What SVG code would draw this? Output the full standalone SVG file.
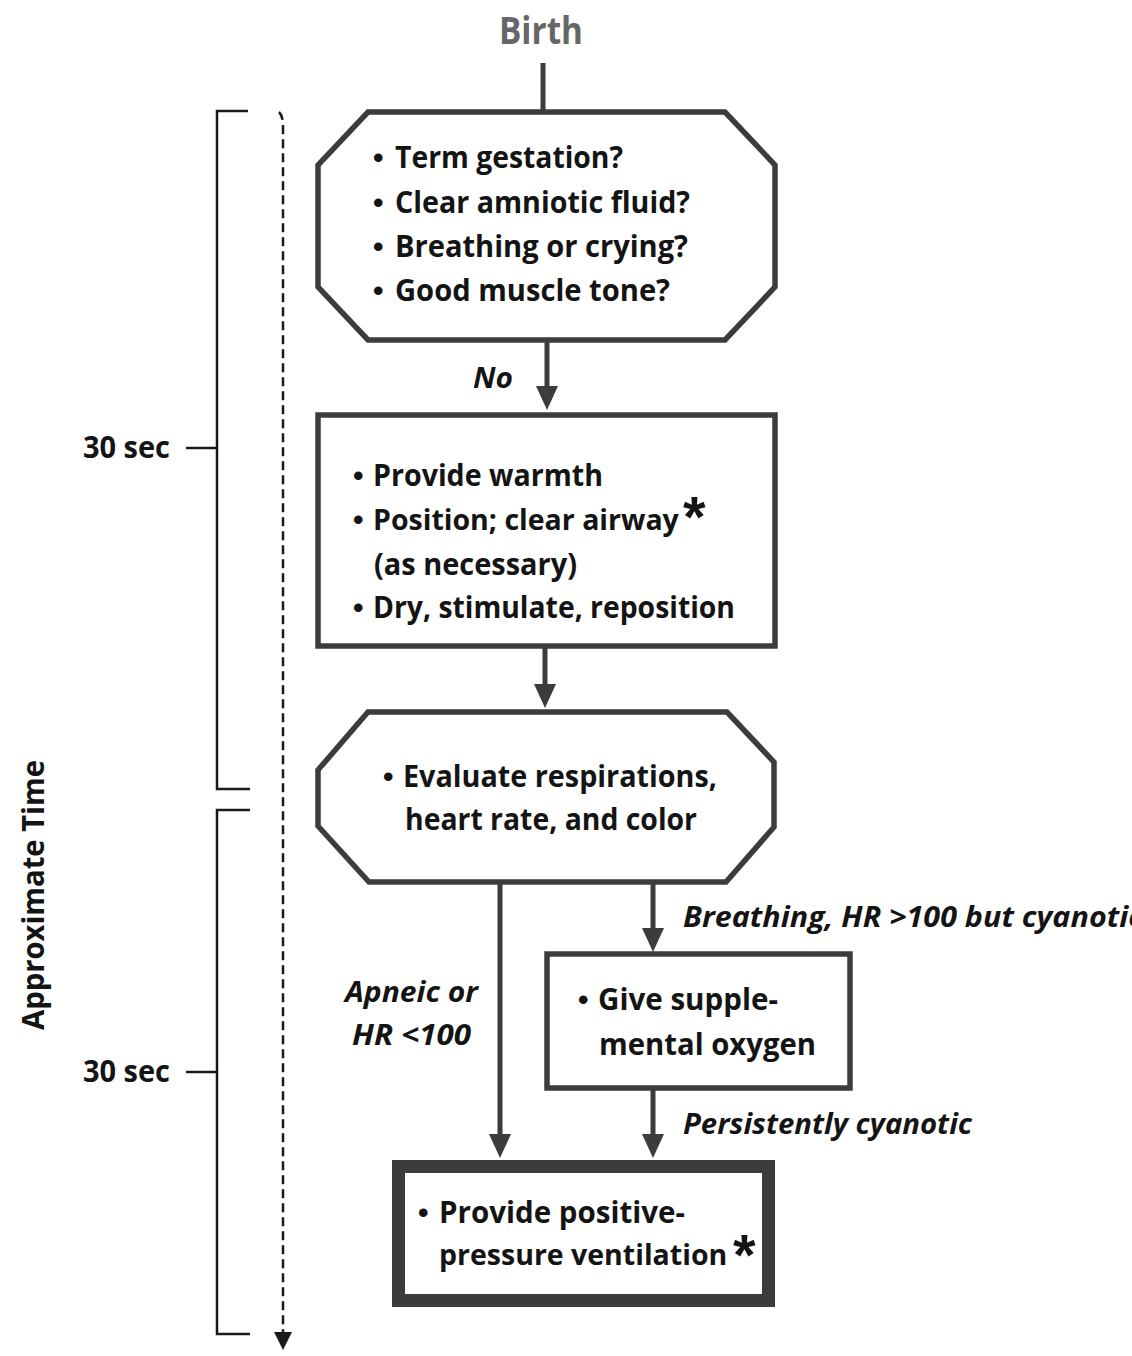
<svg xmlns="http://www.w3.org/2000/svg" width="1132" height="1356" viewBox="0 0 1132 1356">
  <style>
    .shape { fill: #ffffff; stroke: #3c3c3c; stroke-width: 5.5; stroke-linejoin: miter; }
    .thick { fill: #ffffff; stroke: #3c3c3c; stroke-width: 13; }
    .body { font-family: "Open Sans", "Liberation Sans", sans-serif; font-weight: 700; font-size: 31px; fill: #141414; }
    .fit { font-size: 28.5px; }
    .lbl { font-family: "Open Sans", "Liberation Sans", sans-serif; font-weight: 700; font-style: italic; font-size: 29px; fill: #141414; }
    .star { font-family: "Liberation Sans", sans-serif; font-weight: 700; font-size: 58px; fill: #141414; }
    .bul { font-family: "Liberation Sans", sans-serif; font-weight: 700; font-size: 30px; fill: #141414; }
    .wire { fill: none; stroke: #3c3c3c; stroke-width: 5; }
    .scale { fill: none; stroke: #1a1a1a; stroke-width: 2.5; }
    .dash { fill: none; stroke: #1a1a1a; stroke-width: 2.5; stroke-dasharray: 9 5; }
  </style>
  <defs>
    <marker id="head" markerUnits="userSpaceOnUse" markerWidth="24" markerHeight="22" viewBox="0 0 24 22" refX="6" refY="11" orient="auto">
      <path d="M0,0 L24,11 L0,22 z" fill="#3c3c3c"/>
    </marker>
    <marker id="timeHead" markerUnits="userSpaceOnUse" markerWidth="18" markerHeight="18" viewBox="0 0 18 18" refX="4" refY="9" orient="auto">
      <path d="M0,0 L18,9 L0,18 z" fill="#1a1a1a"/>
    </marker>
  </defs>

  <rect width="1132" height="1356" fill="#ffffff"/>

  <!-- time axis on the left -->
  <g id="time-axis">
    <text class="body" transform="translate(44,895) rotate(-90)" text-anchor="middle" textLength="270" lengthAdjust="spacingAndGlyphs">Approximate Time</text>
    <path class="scale" d="M248,111 H217 V789 H250"/>
    <path class="scale" d="M186,448 H217"/>
    <text class="body" x="83" y="458" textLength="87" lengthAdjust="spacingAndGlyphs">30 sec</text>
    <path class="scale" d="M250,810 H217 V1334 H250"/>
    <path class="scale" d="M186,1072 H217"/>
    <text class="body" x="83" y="1082" textLength="87" lengthAdjust="spacingAndGlyphs">30 sec</text>
    <path class="dash" d="M279,112 Q283,116 283,126 V1336" marker-end="url(#timeHead)"/>
  </g>

  <g id="birth">
    <text x="541" y="44" text-anchor="middle" font-family="Open Sans, Liberation Sans, sans-serif" font-weight="700" font-size="38" fill="#666666" textLength="84" lengthAdjust="spacingAndGlyphs">Birth</text>
  </g>

  <!-- connectors -->
  <g id="connectors">
    <path class="wire" d="M543,63 V112"/>
    <path class="wire" d="M547,342 V392" marker-end="url(#head)"/>
    <path class="wire" d="M545,647 V690" marker-end="url(#head)"/>
    <path class="wire" d="M500,884 V1140" marker-end="url(#head)"/>
    <path class="wire" d="M653,884 V934" marker-end="url(#head)"/>
    <path class="wire" d="M653,1090 V1140" marker-end="url(#head)"/>
    <text class="lbl" x="473" y="388" textLength="40" lengthAdjust="spacingAndGlyphs">No</text>
    <text class="lbl" x="345" y="1002" textLength="133" lengthAdjust="spacingAndGlyphs">Apneic or</text>
    <text class="lbl" x="352" y="1045" textLength="119" lengthAdjust="spacingAndGlyphs">HR &lt;100</text>
    <text class="lbl" x="683" y="927" textLength="460" lengthAdjust="spacingAndGlyphs">Breathing, HR &gt;100 but cyanotic</text>
    <text class="lbl" x="683" y="1134" textLength="289" lengthAdjust="spacingAndGlyphs">Persistently cyanotic</text>
  </g>

  <g id="initial-assessment">
    <polygon class="shape" points="368,112 725,112 775,165 775,287 725,340 368,340 318,287 318,165"/>
    <text class="bul" x="373" y="168">•</text>
    <text class="body" x="395" y="168" textLength="228" lengthAdjust="spacingAndGlyphs">Term gestation?</text>
    <text class="bul" x="373" y="213">•</text>
    <text class="body" x="395" y="213" textLength="295" lengthAdjust="spacingAndGlyphs">Clear amniotic fluid?</text>
    <text class="bul" x="373" y="257">•</text>
    <text class="body" x="395" y="257" textLength="293" lengthAdjust="spacingAndGlyphs">Breathing or crying?</text>
    <text class="bul" x="373" y="301">•</text>
    <text class="body" x="395" y="301" textLength="275" lengthAdjust="spacingAndGlyphs">Good muscle tone?</text>
  </g>

  <g id="initial-steps">
    <rect class="shape" x="318" y="415" width="457" height="231"/>
    <text class="bul" x="353" y="486">•</text>
    <text class="body" x="373" y="486" textLength="230" lengthAdjust="spacingAndGlyphs">Provide warmth</text>
    <text class="bul" x="353" y="530">•</text>
    <text class="body fit" x="373" y="530">Position; clear airway</text>
    <text class="star" x="683" y="537">*</text>
    <text class="body" x="374" y="575" textLength="203" lengthAdjust="spacingAndGlyphs">(as necessary)</text>
    <text class="bul" x="353" y="618">•</text>
    <text class="body" x="373" y="618" textLength="362" lengthAdjust="spacingAndGlyphs">Dry, stimulate, reposition</text>
  </g>

  <g id="evaluate">
    <polygon class="shape" points="368,712 727,712 774,762 774,827 726,882 369,882 318,826 318,770"/>
    <text class="bul" x="383" y="787">•</text>
    <text class="body" x="403" y="787" textLength="314" lengthAdjust="spacingAndGlyphs">Evaluate respirations,</text>
    <text class="body" x="405" y="830" textLength="292" lengthAdjust="spacingAndGlyphs">heart rate, and color</text>
  </g>

  <g id="oxygen">
    <rect class="shape" x="547" y="954" width="303" height="134"/>
    <text class="bul" x="578" y="1010">•</text>
    <text class="body" x="598" y="1010" textLength="180" lengthAdjust="spacingAndGlyphs">Give supple-</text>
    <text class="body" x="599" y="1055" textLength="217" lengthAdjust="spacingAndGlyphs">mental oxygen</text>
  </g>

  <g id="ventilation">
    <rect class="thick" x="398.5" y="1166.5" width="370" height="134"/>
    <text class="bul" x="418" y="1223">•</text>
    <text class="body" x="439" y="1223" textLength="246" lengthAdjust="spacingAndGlyphs">Provide positive-</text>
    <text class="body fit" x="439" y="1265">pressure ventilation</text>
    <text class="star" x="733" y="1275">*</text>
  </g>
</svg>
